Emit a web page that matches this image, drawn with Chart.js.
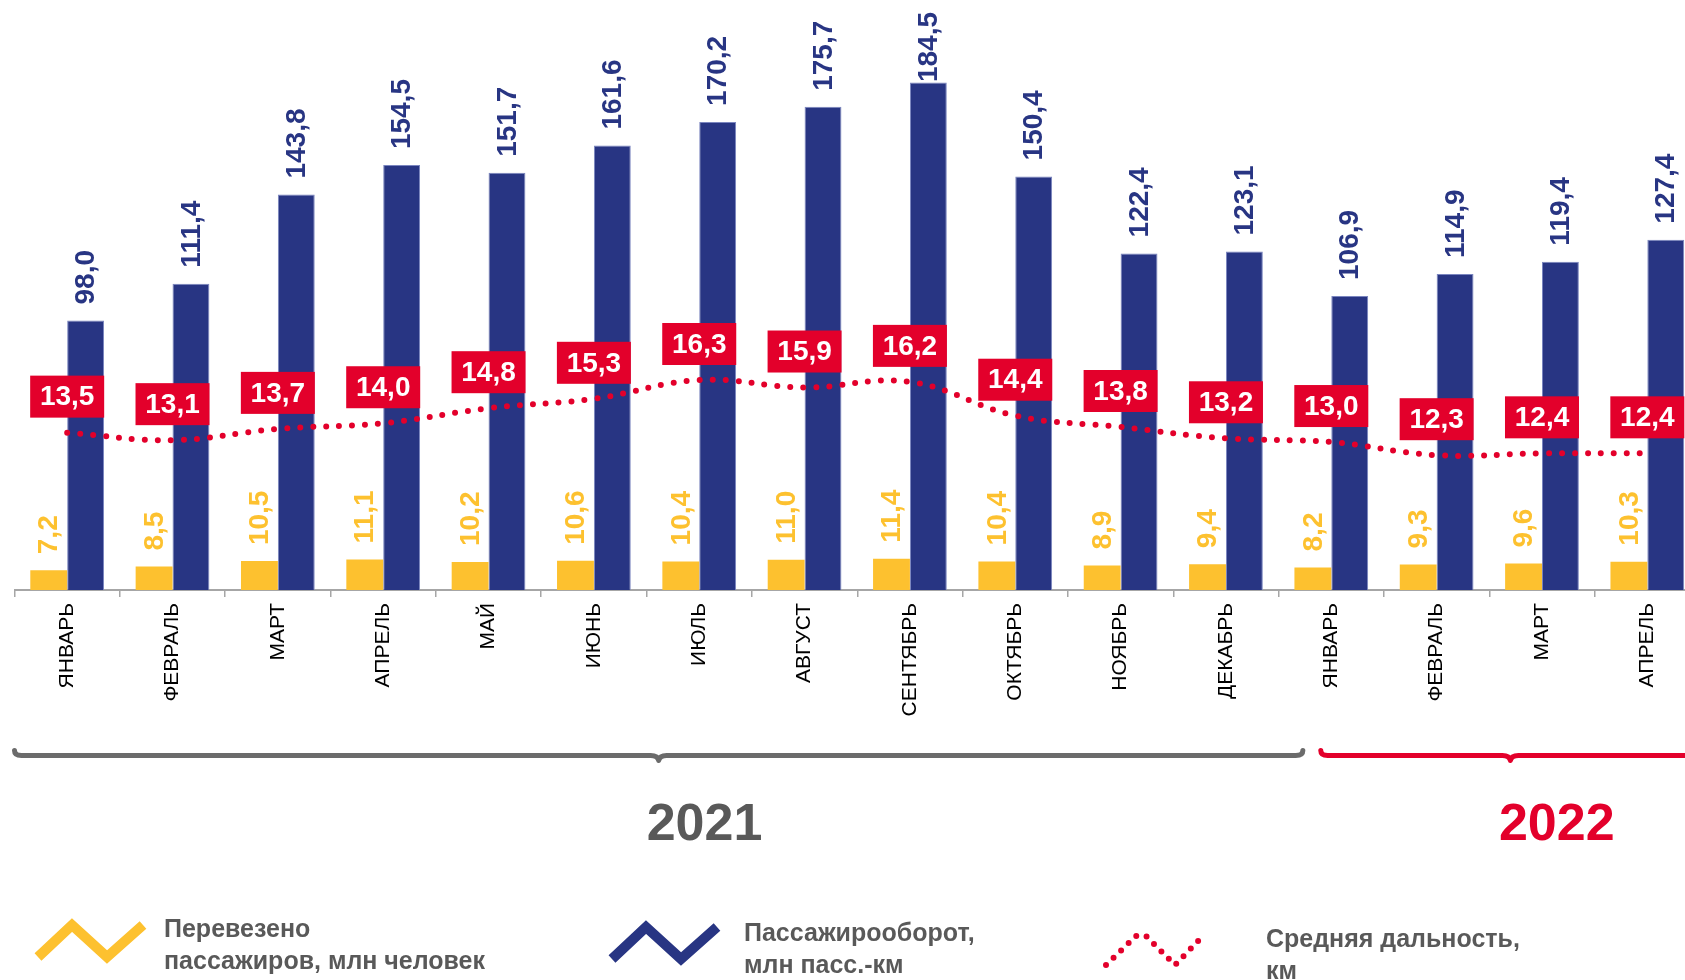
<!DOCTYPE html>
<html lang="ru">
<head>
<meta charset="utf-8">
<title>Пассажирские перевозки 2021–2022</title>
<script src="https://cdn.jsdelivr.net/npm/chart.js@4.4.0/dist/chart.umd.min.js"></script>
<style>
  html, body { margin: 0; padding: 0; background: #fff; overflow: hidden; }
  #wrap { position: relative; width: 1685px; height: 980px; overflow: hidden; }
  #chart { position: absolute; left: 0; top: 0; }
  .legend-text {
    position: absolute;
    font: bold 25px "Liberation Sans", Arial, sans-serif;
    color: #595959;
    line-height: 32px;
    white-space: nowrap;
  }
  .legend-icon { position: absolute; }
</style>
</head>
<body>
<div id="wrap">
  <canvas id="chart" width="1720" height="980"></canvas>
  <div id="legend"></div>
</div>
<script>
/* =====================
   DATA
===================== */
const months = ["ЯНВАРЬ", "ФЕВРАЛЬ", "МАРТ", "АПРЕЛЬ", "МАЙ", "ИЮНЬ", "ИЮЛЬ", "АВГУСТ",
  "СЕНТЯБРЬ", "ОКТЯБРЬ", "НОЯБРЬ", "ДЕКАБРЬ", "ЯНВАРЬ", "ФЕВРАЛЬ", "МАРТ", "АПРЕЛЬ"];
const passengers = [7.2, 8.5, 10.5, 11.1, 10.2, 10.6, 10.4, 11.0, 11.4, 10.4, 8.9, 9.4, 8.2, 9.3, 9.6, 10.3];
const turnover = [98.0, 111.4, 143.8, 154.5, 151.7, 161.6, 170.2, 175.7, 184.5, 150.4, 122.4, 123.1, 106.9, 114.9, 119.4, 127.4];
const distance = [13.5, 13.1, 13.7, 14.0, 14.8, 15.3, 16.3, 15.9, 16.2, 14.4, 13.8, 13.2, 13.0, 12.3, 12.4, 12.4];
const years = ["2021", "2022"];
const seriesNames = [
  ["Перевезено", "пассажиров, млн человек"],
  ["Пассажирооборот,", "млн пасс.-км"],
  ["Средняя дальность,", "км"]
];

/* =====================
   STYLE
===================== */
const YELLOW = "#FDC12F";
const NAVY = "#283583";
const RED = "#E3002B";
const GREY = "#595959";
const FONT = "'Liberation Sans', Arial, sans-serif";

const fmt = v => v.toFixed(1).replace(".", ",");

// year braces, in category units (index of month)
const yearSpans = [
  { from: -0.5, to: 11.73, textAt: 6.05, line: "#6B6B6B", text: GREY },
  { from: 11.9, to: 15.5, textAt: 14.14, line: RED, text: RED }
];

/* =====================
   PLUGINS
===================== */
const valueLabels = {
  id: "valueLabels",
  afterDatasetsDraw(chart) {
    const ctx = chart.ctx;
    ctx.save();
    ctx.font = "bold 28px " + FONT;

    [0, 1].forEach(di => {
      const ds = chart.data.datasets[di];
      chart.getDatasetMeta(di).data.forEach((bar, i) => {
        const txt = fmt(ds.data[i]);
        const w = ctx.measureText(txt).width;
        let end = bar.y - 16;
        if (end - w < 12) end = 12 + w;
        ctx.save();
        ctx.translate(bar.x, end);
        ctx.rotate(-Math.PI / 2);
        ctx.fillStyle = ds.backgroundColor;
        ctx.textAlign = "left";
        ctx.textBaseline = "middle";
        ctx.fillText(txt, 0, 1);
        ctx.restore();
      });
    });

    // red value boxes over the line
    chart.getDatasetMeta(2).data.forEach((pt, i) => {
      const bw = 74, bh = 42;
      const by = pt.y - 15 - bh;
      ctx.fillStyle = RED;
      ctx.fillRect(pt.x - bw / 2, by, bw, bh);
      ctx.fillStyle = "#fff";
      ctx.textAlign = "center";
      ctx.textBaseline = "middle";
      ctx.fillText(fmt(distance[i]), pt.x, by + bh / 2 + 1);
    });
    ctx.restore();
  }
};

const yearBraces = {
  id: "yearBraces",
  afterDraw(chart) {
    const { ctx, scales: { x } } = chart;
    const y = 755.5;
    ctx.save();
    ctx.lineWidth = 5;
    ctx.lineCap = "round";
    ctx.lineJoin = "round";
    yearSpans.forEach((s, k) => {
      const x0 = x.getPixelForValue(s.from);
      const x1 = x.getPixelForValue(s.to);
      const mid = (x0 + x1) / 2;
      ctx.strokeStyle = s.line;
      ctx.beginPath();
      ctx.moveTo(x0, y - 5);
      ctx.quadraticCurveTo(x0, y, x0 + 7, y);
      ctx.lineTo(mid - 8, y);
      ctx.quadraticCurveTo(mid - 1, y, mid, y + 5);
      ctx.quadraticCurveTo(mid + 1, y, mid + 8, y);
      ctx.lineTo(x1 - 7, y);
      ctx.quadraticCurveTo(x1, y, x1, y - 5);
      ctx.stroke();

      ctx.fillStyle = s.text;
      ctx.font = "bold 52px " + FONT;
      ctx.textAlign = "center";
      ctx.textBaseline = "middle";
      ctx.fillText(years[k], x.getPixelForValue(s.textAt), 826);
    });
    ctx.restore();
  }
};

/* =====================
   CHART
===================== */
new Chart(document.getElementById("chart"), {
  type: "bar",
  data: {
    labels: months,
    datasets: [
      {
        label: seriesNames[0].join(" "),
        data: passengers,
        backgroundColor: YELLOW,
        yAxisID: "y",
        order: 2,
        categoryPercentage: 0.7,
        barPercentage: 1
      },
      {
        label: seriesNames[1].join(" "),
        data: turnover,
        backgroundColor: NAVY,
        borderColor: "#7A85BF",
        borderWidth: 1,
        yAxisID: "y",
        order: 2,
        categoryPercentage: 0.7,
        barPercentage: 1
      },
      {
        type: "line",
        label: seriesNames[2].join(" "),
        data: distance,
        yAxisID: "y2",
        borderColor: RED,
        borderWidth: 6,
        borderDash: [0, 13],
        borderCapStyle: "round",
        tension: 0.4,
        pointRadius: 0,
        fill: false,
        order: 1
      }
    ]
  },
  options: {
    responsive: false,
    animation: false,
    devicePixelRatio: 1,
    layout: { padding: { top: 10, left: 14.5, right: 20, bottom: 0 } },
    plugins: { legend: { display: false }, tooltip: { enabled: false } },
    scales: {
      x: {
        offset: true,
        grid: { offset: true, drawOnChartArea: false, drawTicks: true, tickLength: 7, color: "#A6A6A6", lineWidth: 1.5 },
        border: { display: true, color: "#A6A6A6", width: 2 },
        ticks: {
          autoSkip: false, maxRotation: 90, minRotation: 90, padding: 6,
          color: "#000", font: { family: FONT, size: 21 }
        },
        afterFit(s) { s.height = 390; s.paddingLeft = 0; s.paddingRight = 0; }
      },
      y: { display: false, min: 0, max: 210.9 },
      y2: { display: false, min: 5.13, max: 35.98 }
    }
  },
  plugins: [valueLabels, yearBraces]
});

/* =====================
   LEGEND
===================== */
const legendPlaces = [
  { icon: [30, 915], text: [164, 912], color: YELLOW, dotted: false },
  { icon: [604, 917], text: [744, 916], color: NAVY, dotted: false },
  { icon: [1100, 929], text: [1266, 922], color: RED, dotted: true }
];

const legend = document.getElementById("legend");
legend.innerHTML = legendPlaces.map((p, i) => {
  const stroke = p.dotted
    ? `stroke-width="6" stroke-dasharray="0 10.5" stroke-linecap="round"`
    : `stroke-width="10"`;
  const pts = p.dotted ? "6,36 36,7 46,7 75,36 103,7" : "8,42 42,10 77,42 113,10";
  return `
    <svg class="legend-icon" style="left:${p.icon[0]}px;top:${p.icon[1]}px" width="122" height="52">
      <polyline points="${pts}" fill="none" stroke="${p.color}" ${stroke}/>
    </svg>
    <div class="legend-text" style="left:${p.text[0]}px;top:${p.text[1]}px">
      ${seriesNames[i].join("<br>")}
    </div>`;
}).join("");
</script>
</body>
</html>
